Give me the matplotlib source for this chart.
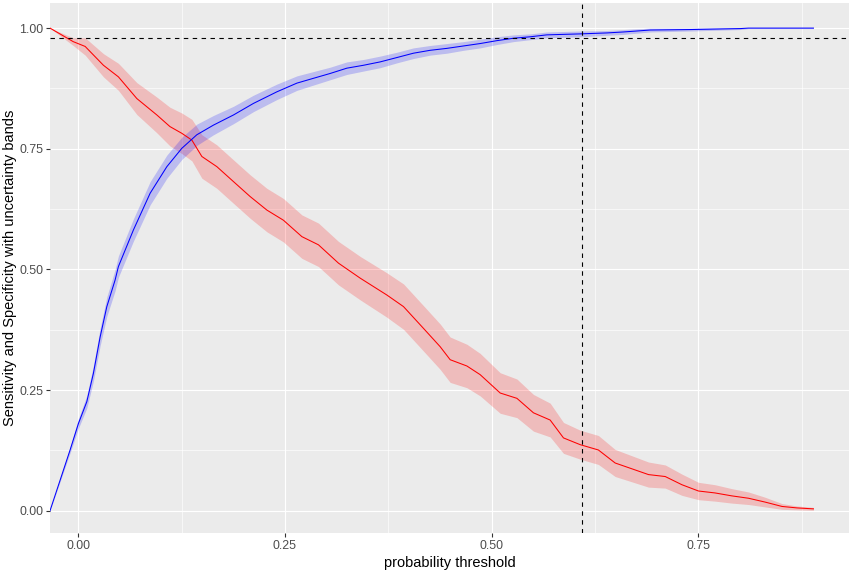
import numpy as np
import matplotlib
matplotlib.use("Agg")
import matplotlib.pyplot as plt
from matplotlib.ticker import FixedLocator

# ---- data ----
spec_x = [-0.034, -0.006, 0.0085, 0.0306, 0.0487, 0.071, 0.0952, 0.111, 0.1254, 0.1375,
          0.1496, 0.1677, 0.1878, 0.208, 0.2282, 0.2482, 0.2705, 0.2906, 0.3148, 0.341,
          0.3733, 0.3934, 0.4175, 0.4377, 0.4498, 0.470, 0.4861, 0.5103, 0.5305, 0.5505,
          0.5707, 0.5868, 0.607, 0.629, 0.6493, 0.6695, 0.6896, 0.7098, 0.730, 0.750,
          0.770, 0.790, 0.8105, 0.8307, 0.851, 0.869, 0.889]
spec_y = [1.000, 0.972, 0.962, 0.923, 0.899, 0.854, 0.820, 0.796, 0.782, 0.768,
          0.734, 0.713, 0.682, 0.651, 0.623, 0.602, 0.568, 0.551, 0.513, 0.482,
          0.447, 0.423, 0.378, 0.340, 0.313, 0.300, 0.282, 0.244, 0.233, 0.203,
          0.188, 0.151, 0.137, 0.126, 0.099, 0.087, 0.075, 0.071, 0.054, 0.041,
          0.037, 0.031, 0.026, 0.018, 0.009, 0.006, 0.004]
spec_band = [0.000, 0.008, 0.018, 0.024, 0.028, 0.033, 0.037, 0.040, 0.042, 0.043,
             0.045, 0.045, 0.045, 0.045, 0.045, 0.045, 0.045, 0.045, 0.045, 0.045,
             0.046, 0.047, 0.047, 0.047, 0.047, 0.045, 0.044, 0.042, 0.040, 0.038,
             0.035, 0.032, 0.030, 0.030, 0.028, 0.027, 0.026, 0.024, 0.022, 0.018,
             0.017, 0.015, 0.013, 0.010, 0.006, 0.004, 0.003]

sens_x = [-0.034, -0.0097, 0.0004, 0.0105, 0.0185, 0.0266, 0.0347, 0.0447, 0.0487, 0.0669,
          0.0871, 0.1073, 0.1254, 0.1435, 0.1636, 0.1878, 0.212, 0.2403, 0.2645, 0.2845,
          0.3047, 0.3249, 0.345, 0.3652, 0.3854, 0.4054, 0.4256, 0.4458, 0.4659, 0.4861,
          0.5063, 0.5264, 0.5466, 0.5667, 0.607, 0.6393, 0.6594, 0.6917, 0.74, 0.8005,
          0.8105, 0.889]
sens_y = [0.000, 0.126, 0.181, 0.226, 0.285, 0.360, 0.423, 0.478, 0.506, 0.582,
          0.658, 0.713, 0.751, 0.779, 0.799, 0.820, 0.844, 0.868, 0.886, 0.896,
          0.906, 0.917, 0.923, 0.930, 0.939, 0.948, 0.954, 0.958, 0.963, 0.968,
          0.974, 0.979, 0.982, 0.986, 0.988, 0.990, 0.992, 0.996, 0.997, 0.999,
          1.000, 1.000]
sens_band = [0.000, 0.006, 0.010, 0.013, 0.016, 0.018, 0.020, 0.022, 0.022, 0.023,
             0.024, 0.024, 0.023, 0.022, 0.020, 0.018, 0.017, 0.016, 0.015, 0.014,
             0.013, 0.013, 0.012, 0.012, 0.011, 0.011, 0.010, 0.010, 0.009, 0.009,
             0.008, 0.007, 0.006, 0.006, 0.006, 0.005, 0.005, 0.004, 0.003, 0.002,
             0.001, 0.001]

hline_y = 0.98
vline_x = 0.609

x_ticks = [0.00, 0.25, 0.50, 0.75]
x_labels = ["0.00", "0.25", "0.50", "0.75"]
y_ticks = [0.00, 0.25, 0.50, 0.75, 1.00]
y_labels = ["0.00", "0.25", "0.50", "0.75", "1.00"]

# ---- plotting ----
plt.rcParams['font.family'] = ['Liberation Sans', 'DejaVu Sans']
fig = plt.figure(figsize=(8.54, 5.73), dpi=100)
ax = fig.add_axes([50/854, 40/573, 799/854, 530/573])
ax.set_facecolor('#EBEBEB')

ax.set_xlim(-0.034, 0.932)
ax.set_ylim(-0.046, 1.052)

ax.xaxis.set_major_locator(FixedLocator(x_ticks))
ax.xaxis.set_minor_locator(FixedLocator([0.125, 0.375, 0.625, 0.875]))
ax.yaxis.set_major_locator(FixedLocator(y_ticks))
ax.yaxis.set_minor_locator(FixedLocator([0.125, 0.375, 0.625, 0.875]))
ax.set_xticklabels(x_labels)
ax.set_yticklabels(y_labels)

ax.grid(which='major', color='white', linewidth=0.85)
ax.grid(which='minor', color='white', linewidth=0.45)
ax.set_axisbelow(True)
for s in ax.spines.values():
    s.set_visible(False)
ax.tick_params(which='major', length=3, width=0.8, color='#333333',
               labelcolor='#4D4D4D', labelsize=8.9, pad=2)
ax.tick_params(which='minor', length=0)

sx = np.array(sens_x); sy = np.array(sens_y); sb = np.array(sens_band)
px = np.array(spec_x); py = np.array(spec_y); pb = np.array(spec_band)

ax.fill_between(px, py - pb, py + pb, color='red', alpha=0.2, linewidth=0)
ax.fill_between(sx, sy - sb, sy + sb, color='blue', alpha=0.2, linewidth=0)
ax.plot(px, py, color='red', linewidth=0.75)
ax.plot(sx, sy, color='blue', linewidth=0.75)

ax.axhline(hline_y, color='black', linewidth=0.8, linestyle=(0, (4, 4)))
ax.axvline(vline_x, color='black', linewidth=0.8, linestyle=(0, (4, 4)))

ax.set_xlabel('probability threshold', fontsize=10.5, color='black', labelpad=3)
ax.set_ylabel('Sensitivity and Specificity with uncertainty bands', fontsize=10.5,
              color='black')
ax.yaxis.set_label_coords(-33/799, 0.5)

fig.savefig('out.png', dpi=100)
